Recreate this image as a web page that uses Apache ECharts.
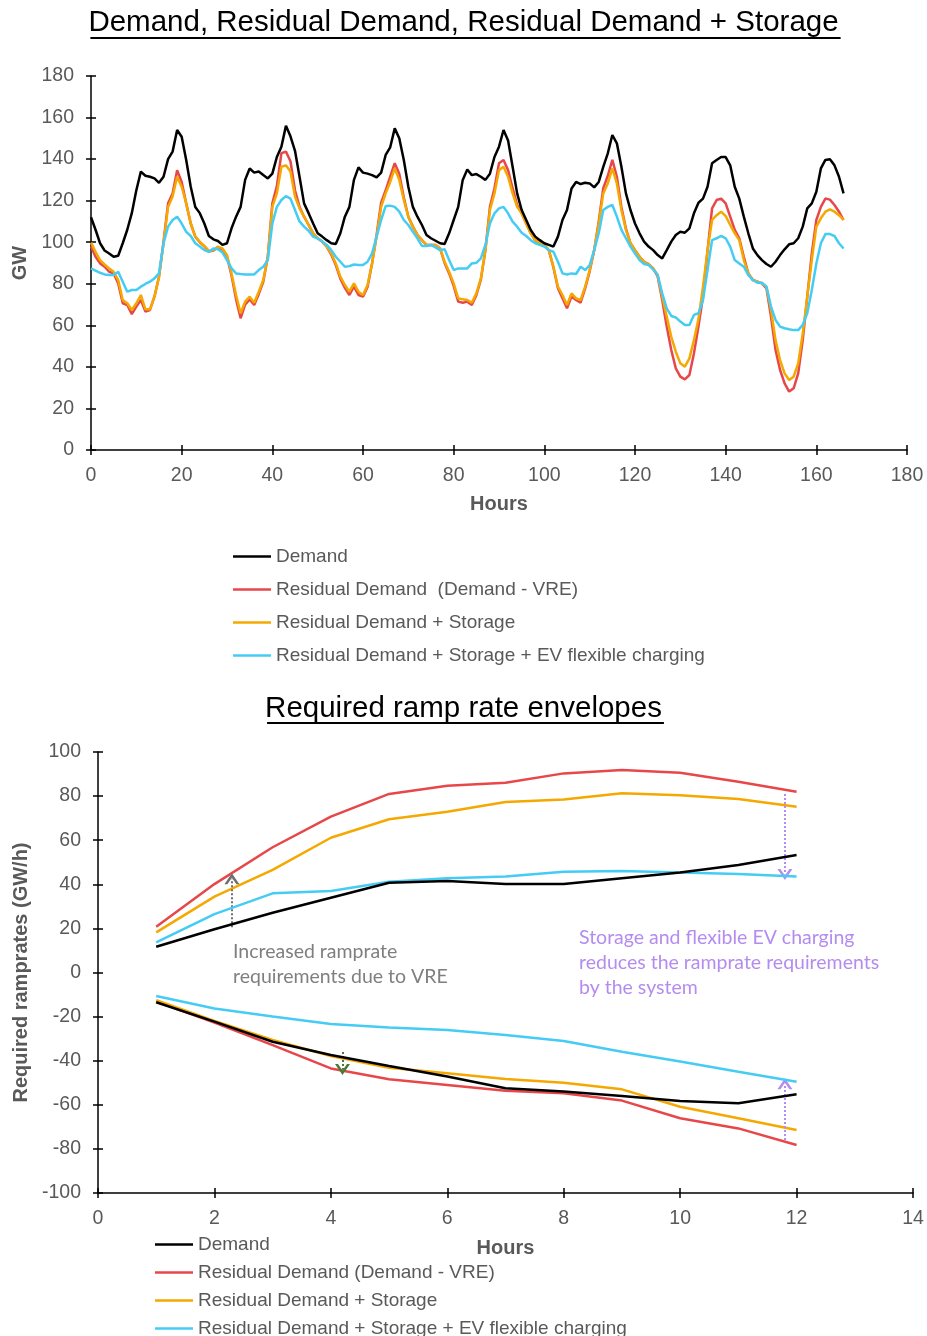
<!DOCTYPE html>
<html>
<head>
<meta charset="utf-8">
<script src="https://cdn.jsdelivr.net/npm/echarts@6/dist/echarts.min.js"></script>
<style>
html,body{margin:0;padding:0;background:#fff;}
#chart{width:927px;height:1336px;}
</style>
</head>
<body>
<div id="chart"></div>
<script>
// ---------- Top chart: hourly values (GW), hours 0..166 ----------
const demand = [112,106,99.5,96,94.6,93,93.5,99.5,106,114,125,134,132,131.5,130.7,128.6,131.5,140,143.6,154,150.8,139.6,126.7,117,114,109,103,101.4,100.6,98.7,99.5,106.7,112.3,117,130,135.5,133.5,134,132.3,130.7,133,141,146,156,151,144,131.5,118.7,114,109,104.3,102.7,101,99.5,99.1,104.3,112.3,117,130,136,133.5,133,132.3,131.2,133.5,142,145.7,154.8,150,139.6,126.7,117,112.3,108.3,103.5,101.9,100.7,99.5,99.1,104.3,110.7,117,130,135,132.3,132.8,131.5,130,133,141,146,154,149,136.3,123.5,115.5,110.7,105.9,102.7,101,99.5,98.7,97.9,102.7,110.7,115.5,125.9,129,128,128.6,128.3,126.4,129,136.3,142.8,151.6,147.6,136.3,123.5,115.5,109,104.3,100.3,97.9,96.2,93.8,92.2,96.2,100.3,103.5,105,104.6,106.7,113.9,119,121,126.7,138,139.6,141,141,137,126.7,121,112.3,104.3,97,93.8,91.4,89.5,88.2,90.6,93.8,96.6,99,99.5,101.9,107.5,116.3,118.7,124.3,135.5,139.6,139.9,137,131.5,123.5];
const residual = [97.9,93,89.8,88.2,85.8,85,80.2,70.6,69.8,65.4,69,72.2,66.6,67.4,73.8,83.4,100.2,118.7,123.5,134.7,129,118.7,109,102.7,100,98,95.5,96,97.5,96.5,93,84,72.5,63.4,70,72.5,69.8,75,81,93,118.7,127,142.8,143.6,139,125,117,112.3,108.3,104.3,101.9,100.3,97.9,94,89,82.5,78,74.6,78.6,74.6,73.8,78.5,89.8,103.5,119,125,131.5,138,133,121.5,112.3,107.5,103.5,101,98.7,98.7,98.7,97,90,85,79,71.4,70.9,71.4,69.8,74.5,82,96.2,117,126,138,139.6,134.7,126,118,114,109,104.3,101,99.5,98.7,96,88,77.8,73,68.2,73.8,72.2,70.9,77.8,86,96.2,110,126,132,139.6,131.5,117,106.5,99.5,96.2,93,90.6,89.5,87.4,83.5,72.2,59.4,48.1,39.3,35.3,34,36.1,46.5,59.4,73.8,96,116.3,120.3,121,118.7,112.3,105.9,101.9,93,85,81.8,81,80.2,77.8,64.2,48.1,38.5,32.1,28.1,29.7,36.9,52.9,73.8,94.6,110.7,117,121,120.5,117.9,114.7,110.7];
const withStorage = [99.8,95.4,91.4,89.3,87.4,85.8,81.8,72.2,70.6,67.4,70.6,74.6,67.7,67.7,73.8,83.4,99.5,117,122,131.5,126.7,118.7,109,102.7,100.2,98.2,95.9,96.2,97.9,97,93.8,85,74.6,65.8,71.4,73.8,70.9,76.2,81.8,93,117,123.5,136.3,137,134,122,116.3,112.3,108.3,104.3,101.9,100.3,97.9,94.6,89.8,83.4,79.4,76.2,80.2,76.2,74.6,79.4,89.8,102.7,117,123.5,129,135.5,130,120.3,112.3,107.5,103.5,101,98.7,98.7,98.7,97,90.6,85.8,80.2,73,72.5,72.2,70.9,75.4,82.6,96.2,115.5,123.5,134.7,136.3,131.5,123.5,117,113.9,109,104.3,101,99.5,98.7,96.2,88.2,78.6,74.6,69.8,75.4,73,72.2,78.6,86.6,96.2,109,123.5,128.3,135.5,128.3,115.5,105.9,99.5,96.2,93,90.6,89.5,87.4,84.2,73.8,64.2,54.5,47.3,41.7,40.1,44.1,52.9,63,78.6,96.2,110.7,113,114.7,112.6,108.3,104.3,101,91.4,85,81.8,81,80.2,78.6,67.4,52.9,43.3,36.9,33.7,35.3,41.7,56.1,73.8,91.4,107.5,111.5,114.7,115.8,114.7,113,110.7];
const withEV = [87.4,86.3,85.3,84.5,84.2,84.2,85.8,81,76.2,77,77,78.6,79.9,81,82.6,85,99.5,107.5,110.7,112.3,109,105,103,99.5,97.9,96.2,95.4,97,96.6,95,91.4,87.4,85,84.7,84.5,84.5,84.5,86.6,88.2,91.4,109,117,120.3,122.2,121,115.5,110,107.5,105.5,102.7,101.9,100.3,98.7,96.2,93,90.6,88.2,88.5,89.3,89,89,90.6,94.6,102.7,110.7,117.4,117.6,117,114.7,110.7,108.3,105,101.9,98.2,98.2,98.7,97.5,96.2,96.6,91.4,86.6,87.4,87.4,87.4,89.8,90.1,92.2,98.7,109,113.9,116.3,117,113.9,109.9,107.5,104.6,103,101,99.5,98.7,97.9,96.2,95.4,90.6,85,84.5,85,84.7,88.2,86.6,89,96.2,104.3,115.5,117,117.9,112.3,105.9,101.9,97.9,94.6,91.4,89.5,89,86.9,84.2,75.4,68.2,64.5,63.8,61.8,60.2,60.2,65,65.8,72.2,86.6,101,101.9,103,101.9,97.9,91.4,89.8,88.2,84.2,81.8,80.5,80.5,78.6,69,62.6,59.4,58.6,58.1,57.7,57.7,60.2,65.8,77,89.8,99.5,103.9,103.9,103,99.5,97];

// ---------- Bottom chart: ramp rate envelopes (GW/h) ----------
const rampHours = [1,2,3,4,5,6,7,8,9,10,11,12];
const demandUp = [11.7,19.6,27.1,33.9,40.7,41.5,40.1,40.1,42.7,45.3,48.8,53.3];
const demandDown = [-13.5,-22.3,-31.4,-37.4,-42.4,-47.2,-52.5,-54,-56,-58.3,-59.3,-55.2];
const residualUp = [20.8,40.1,56.8,70.7,81,84.7,86.1,90.3,91.8,90.6,86.5,82];
const residualDown = [-13.2,-22.7,-32.9,-43.5,-48.4,-51,-53.6,-54.8,-58.1,-66.1,-70.7,-78.2];
const storageUp = [18.2,34.4,46.5,61.1,69.5,72.9,77.3,78.5,81.3,80.4,78.7,75.2];
const storageDown = [-12.5,-22,-30.6,-37.9,-43.2,-45.7,-48.3,-50,-53,-60.9,-66.1,-71.4];
const evUp = [13.7,26.5,35.9,37,41.2,42.7,43.5,45.7,46,45.3,44.7,43.5];
const evDown = [-10.7,-16.3,-20,-23.4,-24.9,-26.1,-28.3,-31.1,-35.9,-40.4,-45,-49.5];

const topNames = ['Demand','Residual Demand  (Demand - VRE)','Residual Demand + Storage','Residual Demand + Storage + EV flexible charging'];
const botNames = ['Demand','Residual Demand (Demand - VRE)','Residual Demand + Storage','Residual Demand + Storage + EV flexible charging'];
const titles = ['Demand, Residual Demand, Residual Demand + Storage','Required ramp rate envelopes'];
const annoGray = ['Increased ramprate','requirements due to VRE'];
const annoPurple = ['Storage and flexible EV charging','reduces the ramprate requirements','by the system'];

const COLORS = ['#000000','#E8474A','#F5A800','#45CCF5'];
const FONT = 'Liberation Sans, Arial, sans-serif';
const LABEL = '#595959';

function pairs(xs, ys){ return ys.map((v,i)=>[xs[i], v]); }
function hourPairs(ys){ return ys.map((v,i)=>[i, v]); }

const chart = echarts.init(document.getElementById('chart'), null, {renderer:'canvas'});

function measure(text, font){
  const c = document.createElement('canvas').getContext('2d');
  c.font = font; return c.measureText(text).width;
}
const TFONT = '29.5px Liberation Sans';
const tw0 = measure(titles[0], TFONT);
const tw1 = measure(titles[1], TFONT);

function axisX(grid, min, max, interval, name, nameGap, inside){
  return {
    type:'value', gridIndex:grid, min:min, max:max, interval:interval, position:'bottom', offset:0,
    name: inside ? '' : name, nameLocation:'middle', nameGap:nameGap,
    nameTextStyle:{fontFamily:FONT, fontSize:20, fontWeight:'bold', color:LABEL},
    axisLine:{show:!inside, onZero:false, lineStyle:{color:'#000', width:1.5}},
    axisTick:{show:true, inside:!!inside, length:5, lineStyle:{color:'#000', width:1.5}},
    axisLabel:{show:!inside, fontFamily:FONT, fontSize:19.5, color:LABEL, margin:16},
    splitLine:{show:false}
  };
}
function axisY(grid, min, max, interval, name, nameGap, inside){
  return {
    type:'value', gridIndex:grid, min:min, max:max, interval:interval, position:'left', offset:0,
    name: inside ? '' : name, nameLocation:'middle', nameGap:nameGap, nameRotate:90,
    nameTextStyle:{fontFamily:FONT, fontSize:20, fontWeight:'bold', color:LABEL},
    axisLine:{show:!inside, onZero:false, lineStyle:{color:'#000', width:1.5}},
    axisTick:{show:true, inside:!!inside, length:5, lineStyle:{color:'#000', width:1.5}},
    axisLabel:{show:!inside, fontFamily:FONT, fontSize:19.5, color:LABEL, margin:17},
    splitLine:{show:false}
  };
}

const chev = 'path://M0,10L5,0L10,10L8,10L5,4L2,10Z';
function arrow(color, x, y0, y1){
  return [{coord:[x,y0], lineStyle:{color:color}, itemStyle:{color:color}}, {coord:[x,y1], lineStyle:{color:color}, itemStyle:{color:color}}];
}

function lineSeries(name, data, color, xi, yi, z, extra){
  return Object.assign({
    type:'line', name:name, data:data, xAxisIndex:xi, yAxisIndex:yi,
    showSymbol:false, symbol:'none', z:z,
    lineStyle:{color:color, width:2.5}, itemStyle:{color:color},
    emphasis:{disabled:true}, silent:true
  }, extra||{});
}

const legendText = {fontFamily:FONT, fontSize:19, color:LABEL, lineHeight:18};

const option = {
  animation:false,
  backgroundColor:'#fff',
  grid:[
    {left:91, top:76, width:816, height:374},
    {left:98, top:752, width:815, height:441}
  ],
  xAxis:[
    axisX(0,0,180,20,'Hours',44,false),
    axisX(0,0,180,20,'',0,true),
    axisX(1,0,14,2,'Hours',45,false),
    axisX(1,0,14,2,'',0,true)
  ],
  yAxis:[
    axisY(0,0,180,20,'GW',58,false),
    axisY(0,0,180,20,'',0,true),
    axisY(1,-100,100,20,'Required ramprates (GW/h)',62,false),
    axisY(1,-100,100,20,'',0,true)
  ],
  legend:[
    {data:topNames, orient:'vertical', left:233, top:547, width:600, height:140, padding:0, icon:'rect', itemWidth:38, itemHeight:2.5,
     itemGap:14, selectedMode:false, textStyle:legendText},
    {data:botNames, orient:'vertical', left:155, top:1235, width:600, height:140, padding:0, icon:'rect', itemWidth:38, itemHeight:2.5,
     itemGap:9, selectedMode:false, textStyle:legendText}
  ],
  graphic:[
    {type:'text', left:'center', top:8, style:{text:titles[0], font:TFONT, fill:'#000'}},
    {type:'line', shape:{x1:465.5-tw0/2, y1:38, x2:465.5+tw0/2, y2:38}, style:{stroke:'#000', lineWidth:2}},
    {type:'text', left:'center', top:694, style:{text:titles[1], font:TFONT, fill:'#000'}},
    {type:'line', shape:{x1:465.5-tw1/2, y1:723, x2:465.5+tw1/2, y2:723}, style:{stroke:'#000', lineWidth:2}},
    {type:'text', left:233, top:939, style:{text:annoGray.join('\n'), font:'19.5px Lato', fill:'#7F7F7F', lineHeight:25}},
    {type:'text', left:579, top:925, style:{text:annoPurple.join('\n'), font:'19.5px Lato', fill:'#B48CF0', lineHeight:25}}
  ],
  series:[
    lineSeries(topNames[0], hourPairs(demand), COLORS[0], 0, 0, 6),
    lineSeries(topNames[1], hourPairs(residual), COLORS[1], 0, 0, 3),
    lineSeries(topNames[2], hourPairs(withStorage), COLORS[2], 0, 0, 4),
    lineSeries(topNames[3], hourPairs(withEV), COLORS[3], 0, 0, 5),

    lineSeries(botNames[0], pairs(rampHours, demandUp), COLORS[0], 2, 2, 6, {
      markLine:{silent:true, symbol:['none', chev], symbolSize:[15,11], label:{show:false},
        lineStyle:{type:'dotted', width:2},
        emphasis:{disabled:true},
        data:[
          arrow('#6F6F6F', 2.3, 20.5, 42.5),
          arrow('#B48CF0', 11.8, 81, 44.5),
          arrow('#B48CF0', 11.8, -76, -50.5),
          arrow('#4A7A3A', 4.2, -36, -44)
        ]}
    }),
    lineSeries(botNames[0], pairs(rampHours, demandDown), COLORS[0], 2, 2, 6),
    lineSeries(botNames[1], pairs(rampHours, residualUp), COLORS[1], 2, 2, 3),
    lineSeries(botNames[1], pairs(rampHours, residualDown), COLORS[1], 2, 2, 3),
    lineSeries(botNames[2], pairs(rampHours, storageUp), COLORS[2], 2, 2, 4),
    lineSeries(botNames[2], pairs(rampHours, storageDown), COLORS[2], 2, 2, 4),
    lineSeries(botNames[3], pairs(rampHours, evUp), COLORS[3], 2, 2, 5),
    lineSeries(botNames[3], pairs(rampHours, evDown), COLORS[3], 2, 2, 5)
  ]
};
chart.setOption(option);
</script>
</body>
</html>
